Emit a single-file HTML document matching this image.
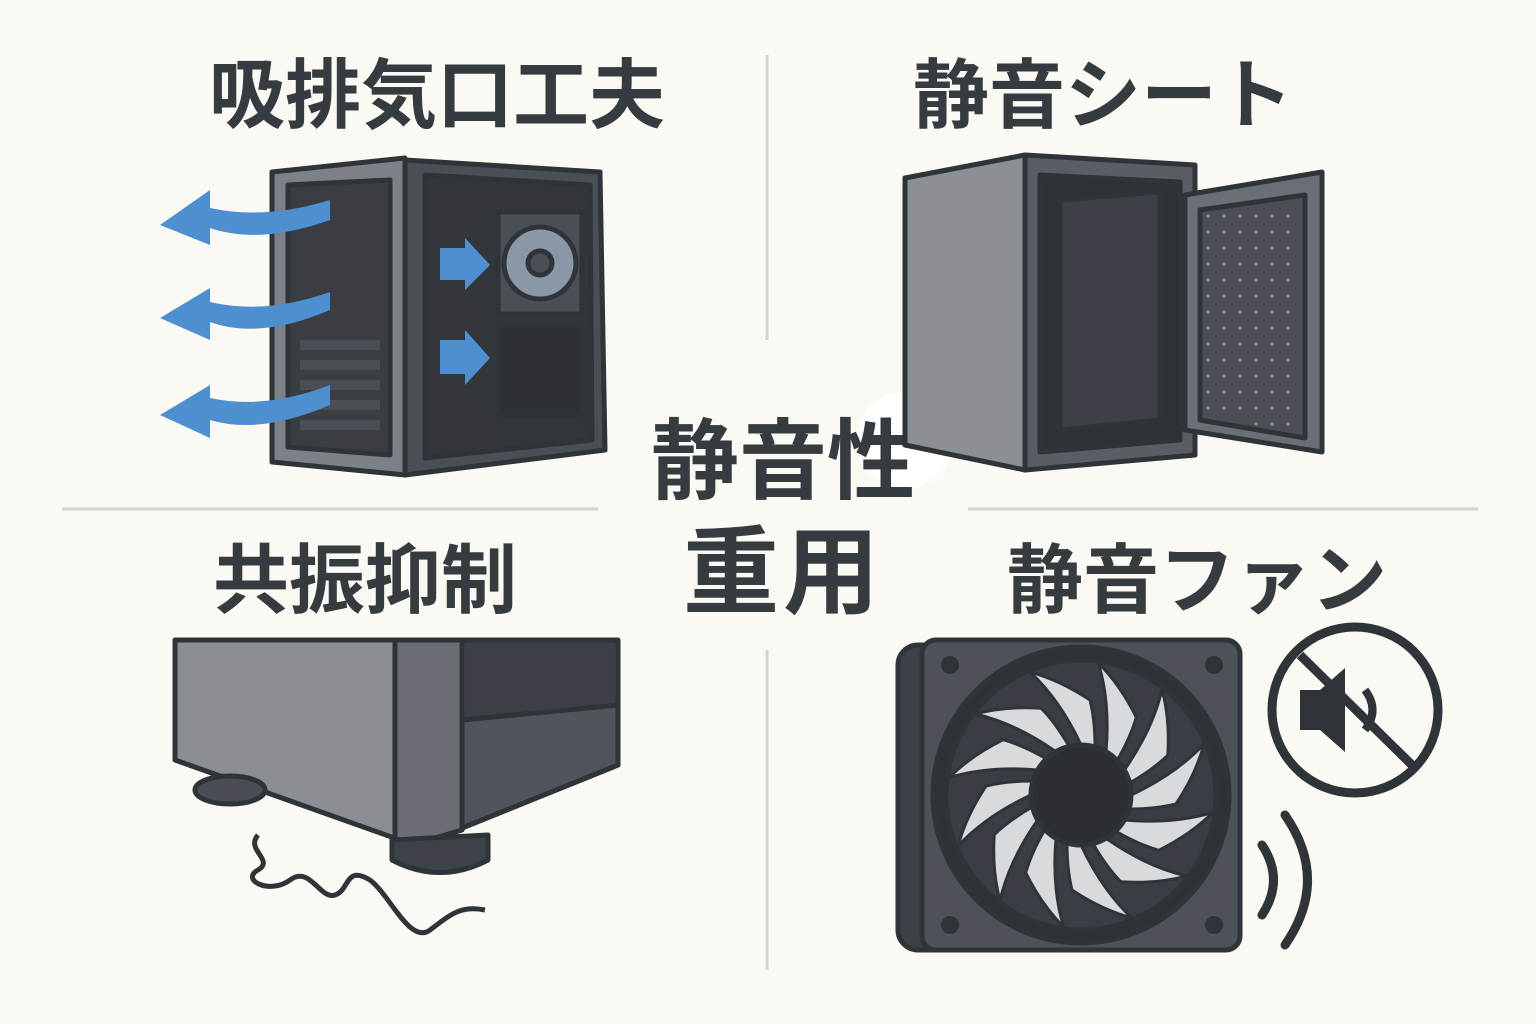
<!DOCTYPE html>
<html><head><meta charset="utf-8"><style>
html,body{margin:0;padding:0;background:#fbf9f4;}
svg{display:block}
text{font-family:"Liberation Sans","Noto Sans CJK JP",sans-serif;font-weight:700;fill:#363b3f}
</style></head><body>
<svg width="1536" height="1024" viewBox="0 0 1536 1024" xmlns="http://www.w3.org/2000/svg">
<rect width="1536" height="1024" fill="#fbf9f4"/>
<g stroke="#d4d4d2" stroke-width="3">
<line x1="767" y1="55" x2="767" y2="340"/>
<line x1="767" y1="650" x2="767" y2="970"/>
<line x1="62" y1="509" x2="598" y2="509"/>
<line x1="968" y1="509" x2="1478" y2="509"/>
</g>
<text x="437" y="122" font-size="76" text-anchor="middle">吸排気口工夫</text>
<text x="1103" y="122" font-size="76" text-anchor="middle">静音シート</text>
<text x="365" y="607" font-size="76" text-anchor="middle">共振抑制</text>
<text x="1197" y="607" font-size="76" text-anchor="middle">静音ファン</text>
<circle cx="905" cy="440" r="48" fill="#ffffff"/>
<text x="783" y="492" font-size="88" text-anchor="middle">静音性</text>
<text x="783" y="606" font-size="96" text-anchor="middle" letter-spacing="4">重用</text>

<!-- Case 1 -->
<g stroke="#2f3438" stroke-width="5" stroke-linejoin="round">
<polygon points="405,160 600,172 605,450 405,475" fill="#4a4f55"/>
<polygon points="425,175 590,185 592,440 425,458" fill="#33373c"/>
<polygon points="272,172 405,158 405,475 272,462" fill="#7d8086"/>
<polygon points="288,185 390,180 390,455 288,447" fill="#3a3e43"/>
<rect x="498" y="212" width="84" height="102" fill="#4a4f55"/>
<circle cx="540" cy="263" r="36" fill="#8a97a6"/>
<circle cx="540" cy="263" r="12" fill="#4a4f55"/>
<rect x="498" y="325" width="84" height="90" fill="#2d3135"/>
</g>
<g fill="#4a4f55">
<rect x="300" y="340" width="80" height="10"/><rect x="300" y="360" width="80" height="10"/>
<rect x="300" y="380" width="80" height="10"/><rect x="300" y="400" width="80" height="10"/>
<rect x="300" y="420" width="80" height="10"/>
</g>
<g fill="#4e8fcf">
<path d="M330,220 Q260,245 210,228 L210,245 L160,225 L210,190 L210,208 Q265,220 330,200 Z"/>
<path d="M330,310 Q260,340 210,322 L210,340 L160,318 L210,288 L210,302 Q265,315 330,292 Z"/>
<path d="M330,405 Q260,435 210,420 L210,438 L160,415 L210,385 L210,398 Q265,410 330,385 Z"/>
<polygon points="440,248 465,248 465,238 490,265 465,290 465,280 440,280"/>
<polygon points="440,340 465,340 465,330 490,358 465,385 465,374 440,374"/>
</g>

<!-- Case 2 -->
<g stroke="#2f3438" stroke-width="5" stroke-linejoin="round">
<polygon points="905,178 1025,155 1025,470 905,445" fill="#8c8f94"/>
<polygon points="1025,155 1195,165 1195,455 1025,470" fill="#5a5e64"/>
<polygon points="1040,175 1180,182 1180,440 1040,452" fill="#2e3236"/>
<polygon points="1060,200 1160,192 1160,420 1060,430" fill="#3d4147"/>
<polygon points="1185,195 1322,172 1322,452 1185,430" fill="#6b6f75"/>
<polygon points="1200,210 1305,195 1305,438 1200,420" fill="#4b4f55"/>
</g>
<pattern id="d" width="16" height="16" patternUnits="userSpaceOnUse"><circle cx="8" cy="8" r="1.8" fill="#8a8d92"/></pattern>
<polygon points="1205,215 1300,200 1300,433 1205,416" fill="url(#d)"/>

<!-- Case 3 -->
<g stroke="#2f3438" stroke-width="5" stroke-linejoin="round">
<polygon points="175,640 400,640 400,840 175,760" fill="#8b8e93"/>
<polygon points="395,640 462,640 462,830 395,850" fill="#6a6e74"/>
<polygon points="462,640 618,640 618,765 462,828" fill="#3c4046"/>
<polygon points="462,720 618,705 618,765 462,828" fill="#50555b"/>
<ellipse cx="230" cy="790" rx="35" ry="14" fill="#4a4e54"/>
<path d="M392,840 L392,860 Q440,885 488,860 L488,835 Z" fill="#3e4248"/>
</g>
<path d="M258,835 C245,850 275,860 258,870 C240,880 270,895 290,880 C310,865 320,900 335,895 C350,890 345,865 370,880 C390,895 410,945 430,930 C450,915 460,905 485,910" fill="none" stroke="#2f3438" stroke-width="5"/>

<!-- Fan -->
<g stroke="#2f3438" stroke-width="5">
<rect x="898" y="645" width="330" height="305" rx="20" fill="#3d4147"/>
<rect x="922" y="640" width="318" height="310" rx="14" fill="#4e5258"/>
<circle cx="1081" cy="795" r="148" fill="#2e3236"/>
<circle cx="1081" cy="795" r="135" fill="#3a3e44"/>
</g>
<g fill="#d9dadb" stroke="#2f3438" stroke-width="3">
<g id="bl"><path d="M1081,745 Q1060,700 1030,672 Q1060,680 1090,700 Q1095,720 1095,746 Z"/></g>
<use href="#bl" transform="rotate(30 1081 795)"/><use href="#bl" transform="rotate(60 1081 795)"/>
<use href="#bl" transform="rotate(90 1081 795)"/><use href="#bl" transform="rotate(120 1081 795)"/>
<use href="#bl" transform="rotate(150 1081 795)"/><use href="#bl" transform="rotate(180 1081 795)"/>
<use href="#bl" transform="rotate(210 1081 795)"/><use href="#bl" transform="rotate(240 1081 795)"/>
<use href="#bl" transform="rotate(270 1081 795)"/><use href="#bl" transform="rotate(300 1081 795)"/>
<use href="#bl" transform="rotate(330 1081 795)"/>
</g>
<circle cx="1081" cy="795" r="50" fill="#2b2f33" stroke="#2f3438" stroke-width="5"/>
<g fill="#2f3438"><circle cx="950" cy="665" r="9"/><circle cx="1214" cy="665" r="9"/><circle cx="950" cy="925" r="9"/><circle cx="1214" cy="925" r="9"/></g>
<circle cx="1355" cy="710" r="83" fill="#fbf9f4" stroke="#2f3438" stroke-width="9"/>
<path d="M1300,690 L1320,690 L1345,668 L1345,752 L1320,730 L1300,730 Z" fill="#2f3438"/>
<path d="M1365,690 Q1380,710 1365,730" fill="none" stroke="#2f3438" stroke-width="8"/>
<line x1="1300" y1="655" x2="1412" y2="765" stroke="#2f3438" stroke-width="9"/>
<g fill="none" stroke="#2f3438" stroke-width="9" stroke-linecap="round">
<path d="M1262,845 Q1285,880 1262,915"/><path d="M1285,815 Q1330,880 1285,945"/>
</g>
</svg>
</body></html>
